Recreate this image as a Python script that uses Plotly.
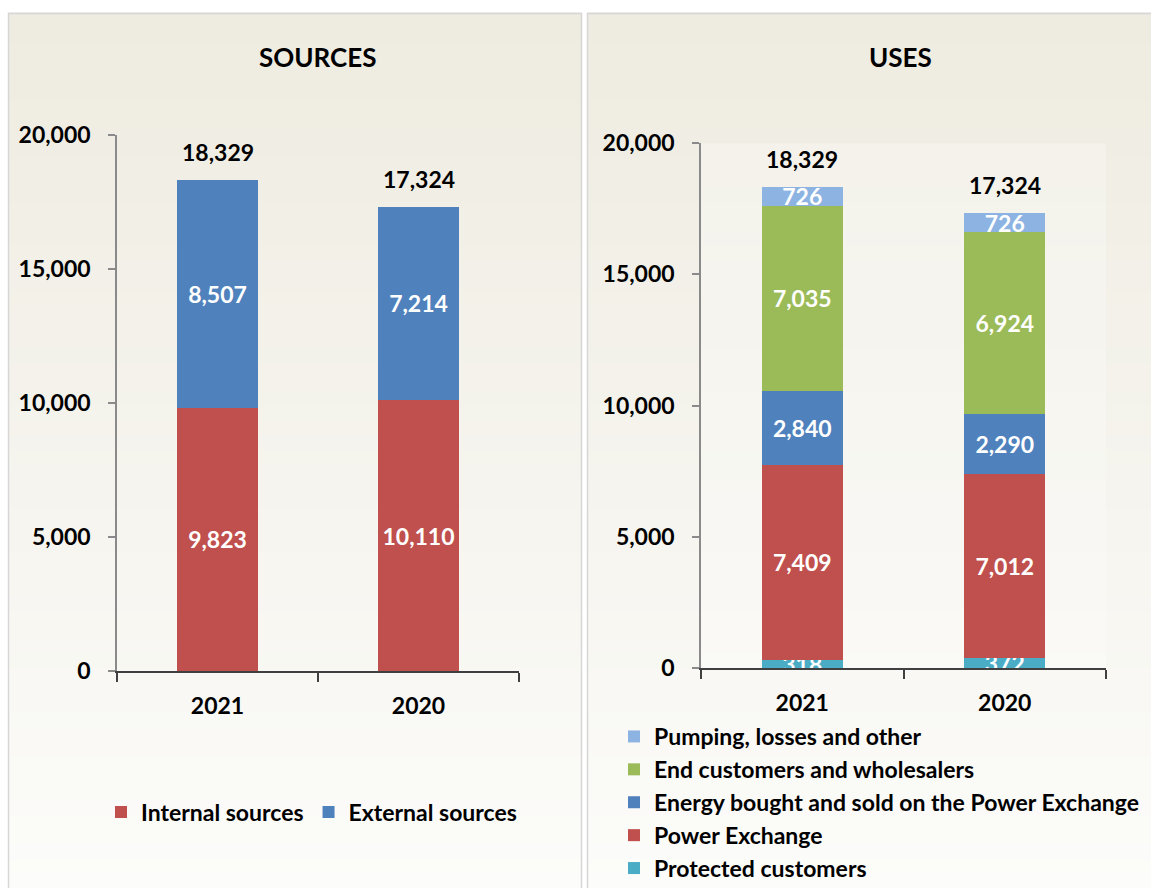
import plotly.graph_objects as go

W, H = 1151, 888

years = ["2021", "2020"]

# Sources
internal_sources = [9823, 10110]
external_sources = [8507, 7214]
sources_totals = ["18,329", "17,324"]

# Uses
protected_customers = [318, 372]
power_exchange = [7409, 7012]
energy_bought_sold = [2840, 2290]
end_customers = [7035, 6924]
pumping_losses = [726, 726]
uses_totals = ["18,329", "17,324"]

y_ticks = [0, 5000, 10000, 15000, 20000]

FONT = "Lato"
RED = "#C0504D"
BLUE = "#4F81BD"
GREEN = "#9BBB59"
LBLUE = "#8DB3E2"
TEAL = "#4BACC6"


def px(x):
    return x / W


def py(y):
    return 1 - y / H


def bfont(size, color="black"):
    return dict(family=FONT, size=size, color=color, weight="bold")


fig = go.Figure()


def add_bar(name, vals, color, xa, ya, legend):
    fig.add_trace(go.Bar(
        x=years, y=vals, name=name, marker=dict(color=color, line=dict(width=0)),
        text=[f"{v:,}" for v in vals], textposition="inside", insidetextanchor="middle",
        constraintext="none", textfont=bfont(23, "white"), xaxis=xa, yaxis=ya,
        legend=legend, width=0.4, hoverinfo="skip"))


add_bar("Internal sources", internal_sources, RED, "x", "y", "legend")
add_bar("External sources", external_sources, BLUE, "x", "y", "legend")

add_bar("Protected customers", protected_customers, TEAL, "x2", "y2", "legend2")
add_bar("Power Exchange", power_exchange, RED, "x2", "y2", "legend2")
add_bar("Energy bought and sold on the Power Exchange", energy_bought_sold, BLUE, "x2", "y2", "legend2")
add_bar("End customers and wholesalers", end_customers, GREEN, "x2", "y2", "legend2")
add_bar("Pumping, losses and other", pumping_losses, LBLUE, "x2", "y2", "legend2")

# totals above bars
src_tot_vals = [a + b for a, b in zip(internal_sources, external_sources)]
use_tot_vals = [a + b + c + d + e for a, b, c, d, e in zip(protected_customers, power_exchange,
                                                           energy_bought_sold, end_customers, pumping_losses)]
annotations = []
for i, (v, t) in enumerate(zip(src_tot_vals, sources_totals)):
    annotations.append(dict(x=i, y=v, xref="x", yref="y", text=t, showarrow=False,
                            xanchor="center", yanchor="bottom", yshift=12, font=bfont(23)))
for i, (v, t) in enumerate(zip(use_tot_vals, uses_totals)):
    annotations.append(dict(x=i, y=v, xref="x2", yref="y2", text=t, showarrow=False,
                            xanchor="center", yanchor="bottom", yshift=12, font=bfont(23)))

annotations.append(dict(x=px(317), y=py(57), xref="paper", yref="paper", text="SOURCES",
                        showarrow=False, xanchor="center", yanchor="middle", font=bfont(26)))
annotations.append(dict(x=px(901), y=py(57), xref="paper", yref="paper", text="USES",
                        showarrow=False, xanchor="center", yanchor="middle", font=bfont(26)))

# background gradient shapes
shapes = []
top_c = (238, 235, 224)
bot_c = (252, 252, 250)
y0p, y1p = 13, 888
N = 60
for i in range(N):
    a = y0p + (y1p - y0p) * i / N
    b = y0p + (y1p - y0p) * (i + 1) / N
    t = (i + 0.5) / N
    c = tuple(round(top_c[k] + (bot_c[k] - top_c[k]) * t) for k in range(3))
    col = "rgb(%d,%d,%d)" % c
    for (xl, xr) in [(8, 582), (587, 1151)]:
        shapes.append(dict(type="rect", xref="paper", yref="paper", x0=px(xl), x1=px(xr),
                           y0=py(b) - 0.0005, y1=py(a) + 0.0005, fillcolor=col, line=dict(width=0), layer="below"))
# right plot area lighter
shapes.append(dict(type="rect", xref="paper", yref="paper", x0=px(701), x1=px(1106), y0=py(668), y1=py(143),
                   fillcolor="rgba(255,255,255,0.25)", line=dict(width=0), layer="below"))
# panel borders
shapes.append(dict(type="rect", xref="paper", yref="paper", x0=px(8.5), x1=px(581.5), y0=py(900), y1=py(13.5),
                   fillcolor="rgba(0,0,0,0)", line=dict(color="#D6D6D6", width=1.5)))
shapes.append(dict(type="rect", xref="paper", yref="paper", x0=px(587.5), x1=px(1160), y0=py(900), y1=py(13.5),
                   fillcolor="rgba(0,0,0,0)", line=dict(color="#D6D6D6", width=1.5)))

xaxis_common = dict(type="category", range=[-0.5, 1.5], showline=True, linecolor="#404040", linewidth=1.5,
                    ticks="outside", tickson="boundaries", ticklen=9, tickcolor="#404040", tickwidth=1.5,
                    showgrid=False, zeroline=False, automargin=False, ticklabelstandoff=14,
                    tickfont=bfont(23), fixedrange=True)
yaxis_common = dict(range=[0, 20000], tickvals=y_ticks, tickformat=",", showline=True, linecolor="#8A8A8A",
                    linewidth=1.5, ticks="outside", ticklen=7, tickcolor="#8A8A8A", tickwidth=1.5,
                    showgrid=False, zeroline=False, ticklabelstandoff=13, automargin=False,
                    tickfont=bfont(23), fixedrange=True)

fig.update_layout(
    width=W, height=H, margin=dict(l=0, r=0, t=0, b=0, autoexpand=False),
    paper_bgcolor="white", plot_bgcolor="rgba(0,0,0,0)",
    barmode="stack", bargap=0.6,
    font=dict(family=FONT, color="black"),
    xaxis=dict(domain=[px(117), px(519)], anchor="y", **xaxis_common),
    yaxis=dict(domain=[py(671), py(135)], anchor="x", **yaxis_common),
    xaxis2=dict(domain=[px(701), px(1106)], anchor="y2", **xaxis_common),
    yaxis2=dict(domain=[py(668), py(143)], anchor="x2", **yaxis_common),
    legend=dict(orientation="h", x=px(101), y=py(812), xanchor="left", yanchor="middle",
                bgcolor="rgba(0,0,0,0)", font=bfont(23),
                traceorder="normal", itemclick=False, itemdoubleclick=False),
    legend2=dict(orientation="v", x=px(614), y=py(890), xanchor="left", yanchor="bottom",
                 bgcolor="rgba(0,0,0,0)", font=bfont(23),
                 traceorder="reversed", itemclick=False, itemdoubleclick=False, tracegroupgap=0),
    annotations=annotations, shapes=shapes, showlegend=True,
)

fig.write_html("out.html", config={"displayModeBar": False},
               post_script="document.body.style.margin='0';document.body.style.overflow='hidden';")
